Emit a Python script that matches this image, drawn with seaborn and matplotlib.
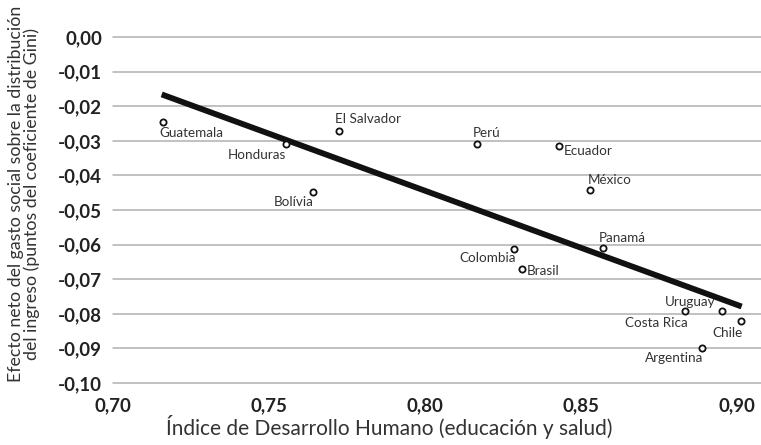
import pandas as pd
import numpy as np
import matplotlib
matplotlib.use("Agg")
import matplotlib.pyplot as plt
import seaborn as sns

# country data
paises = ['Guatemala', 'Honduras', 'El Salvador', 'Bolívia', 'Perú', 'Ecuador',
          'México', 'Panamá', 'Colombia', 'Brasil', 'Costa Rica', 'Uruguay',
          'Chile', 'Argentina']
idh = [0.7159, 0.7553, 0.7725, 0.7640, 0.8165, 0.8429,
       0.8528, 0.8570, 0.8284, 0.8309, 0.8834, 0.8950,
       0.9012, 0.8888]
efecto = [-0.0247, -0.0310, -0.0271, -0.0449, -0.0309, -0.0316,
          -0.0441, -0.0610, -0.0612, -0.0671, -0.0793, -0.0793,
          -0.0821, -0.0900]

# trend line end points
tendencia_x = [0.7156, 0.9014]
tendencia_y = [-0.0166, -0.0779]

x_ticks = [0.70, 0.75, 0.80, 0.85, 0.90]
x_labels = ['0,70', '0,75', '0,80', '0,85', '0,90']
y_ticks = [0.00, -0.01, -0.02, -0.03, -0.04, -0.05, -0.06, -0.07, -0.08, -0.09, -0.10]
y_labels = ['0,00', '-0,01', '-0,02', '-0,03', '-0,04', '-0,05', '-0,06',
            '-0,07', '-0,08', '-0,09', '-0,10']

# label placement: (dx, dy in pixels, horizontal alignment)
offsets = {
    'Guatemala': (-3, -11, 'left'),
    'Honduras': (1, -11, 'right'),
    'El Salvador': (-4, 12, 'left'),
    'Bolívia': (1, -10, 'right'),
    'Perú': (-4, 11, 'left'),
    'Ecuador': (5, -5, 'left'),
    'México': (-2, 10, 'left'),
    'Panamá': (-4, 10, 'left'),
    'Colombia': (2, -9, 'right'),
    'Brasil': (5, -2, 'left'),
    'Costa Rica': (2, -12, 'right'),
    'Uruguay': (-6, 9, 'right'),
    'Chile': (2, -12, 'right'),
    'Argentina': (1, -10, 'right'),
}

df = pd.DataFrame({'pais': paises, 'idh': idh, 'efecto': efecto})
trend = pd.DataFrame({'x': tendencia_x, 'y': tendencia_y})

sns.set_style("white")
plt.rcParams['font.family'] = ['Lato', 'DejaVu Sans']

fig = plt.figure(figsize=(7.61, 4.45), dpi=100)
ax = fig.add_axes([0.1485, 0.1393, 0.8515, 0.7776])

for t in y_ticks:
    ax.axhline(t, color='#b0b0b0', lw=1.1, zorder=0, clip_on=False)

sns.lineplot(data=trend, x='x', y='y', ax=ax, color='#111111', lw=4.2,
             solid_capstyle='butt', zorder=2)
sns.scatterplot(data=df, x='idh', y='efecto', ax=ax, marker='o', s=20,
                facecolor='white', edgecolor='#111111', linewidth=1.3,
                zorder=3, clip_on=False)

for p, x, y in zip(paises, idh, efecto):
    dx, dy, ha = offsets[p]
    ax.annotate(p, (x, y), xytext=(dx, dy), textcoords='offset pixels',
                ha=ha, va='center', fontsize=9.7, color='#333333')

ax.set_xlim(0.70, 0.9076)
ax.set_ylim(-0.10, 0.0)
ax.set_xticks(x_ticks)
ax.set_xticklabels(x_labels, fontsize=13.5, fontweight='bold', color='#222222')
ax.set_yticks(y_ticks)
ax.set_yticklabels(y_labels, fontsize=13.5, fontweight='bold', color='#222222')
ax.tick_params(axis='both', length=0)
ax.tick_params(axis='y', pad=8)
ax.tick_params(axis='x', pad=10)
for s in ax.spines.values():
    s.set_visible(False)

ax.set_xlabel('Índice de Desarrollo Humano (educación y salud)', fontsize=15,
              color='#333333', labelpad=1)
ax.xaxis.set_label_coords(0.426, -0.093)
ax.set_ylabel('Efecto neto del gasto social sobre la distribución\n'
              'del ingreso (puntos del coeficiente de Gini)', fontsize=12.8,
              color='#333333', labelpad=4, linespacing=0.92)
ax.yaxis.set_label_coords(-0.113, 0.546)

fig.savefig('out.png', dpi=100)
